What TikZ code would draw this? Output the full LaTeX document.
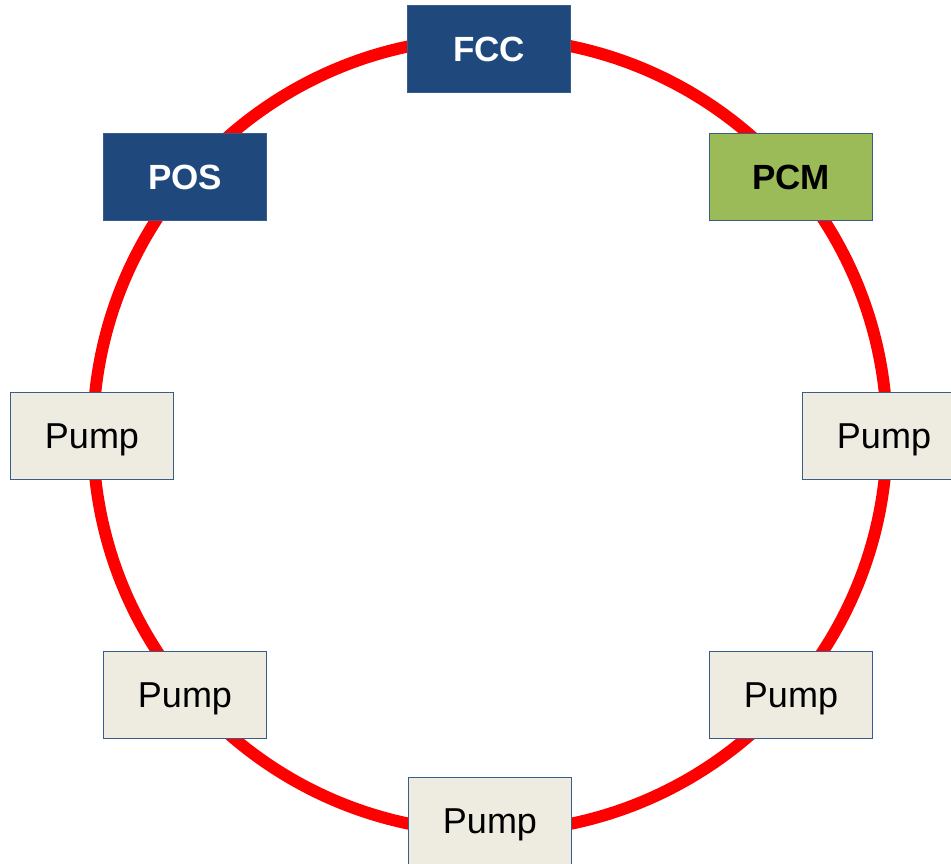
\documentclass[tikz,border=0pt]{standalone}
\usepackage{fontspec}
\setmainfont{Liberation Sans}
\definecolor{navy}{HTML}{1F497D}
\definecolor{leaf}{HTML}{9BBB59}
\definecolor{beige}{HTML}{EEECE1}
\definecolor{edge}{HTML}{385D8A}
\begin{document}
\begin{tikzpicture}[x=1pt,y=-1pt,
  box/.style={draw=edge,line width=1.3pt,minimum width=163pt,minimum height=87pt,inner sep=0pt,text depth=0pt,font=\fontsize{36}{42}\selectfont},
  dark/.style={box,fill=navy,text=white,font=\fontsize{35}{42}\selectfont\bfseries},
  green/.style={box,fill=leaf,text=black,font=\fontsize{35}{42}\selectfont\bfseries},
  pump/.style={box,fill=beige,text=black},
  ring/.style={draw=red,line width=12pt}]
\useasboundingbox (0,0) rectangle (951,864);
\clip (0,0) rectangle (951,864);
\coordinate (c) at (490,435);
\draw[ring] (c) circle (397);
\node[dark] (fcc) at (489,49) {FCC};
\node[dark] (pos) at (185,177) {POS};
\node[green] (pcm) at (791,177) {PCM};
\node[pump] (p1) at (92,436) {Pump};
\node[pump] (p2) at (884,436) {Pump};
\node[pump] (p3) at (185,695) {Pump};
\node[pump] (p4) at (791,695) {Pump};
\node[pump] (p5) at (490,821) {Pump};
\end{tikzpicture}
\end{document}
